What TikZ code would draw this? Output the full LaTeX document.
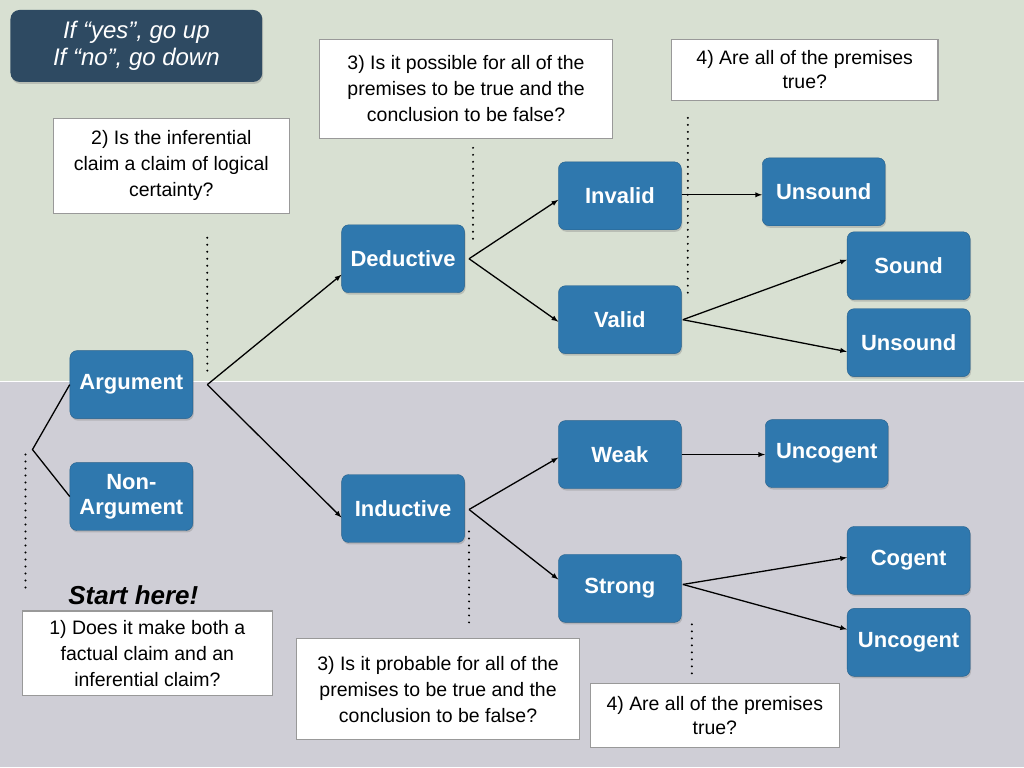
\documentclass[tikz,border=0pt]{standalone}
\usepackage{fontspec}
\setmainfont{Liberation Sans}
\usetikzlibrary{shadows}
\definecolor{bgtop}{HTML}{D8E0D2}
\definecolor{bgbot}{HTML}{CFCED6}
\definecolor{nodeblue}{HTML}{2F78AE}
\definecolor{legend}{HTML}{2E4A62}
\tikzset{
  bn/.style={rounded corners=7pt, fill=nodeblue, draw=nodeblue!80!black, minimum width=123pt, minimum height=68pt,
    text=white, font=\fontsize{22}{25}\selectfont\bfseries, align=center, inner sep=2pt,
    drop shadow={shadow xshift=1pt, shadow yshift=-2pt, opacity=0.35}},
  q/.style={draw=gray!80, fill=white, line width=1.2pt, align=center, font=\fontsize{19.5}{26}\selectfont, inner sep=3pt},
  ar/.style={-latex, line width=1.3pt},
  ln/.style={line width=1.3pt},
  dt/.style={line width=2.2pt, dash pattern=on 0pt off 7pt, line cap=round},
}
\begin{document}
\begin{tikzpicture}[x=1pt,y=-1pt]
\fill[bgtop] (0,0) rectangle (1024,382);
\fill[bgbot] (0,382) rectangle (1024,768);
\draw[white, line width=1pt] (0,382) -- (1024,382);
\useasboundingbox (0,0) rectangle (1024,768);

\node[rounded corners=9pt, fill=legend, minimum width=252pt, minimum height=72pt, text=white, font=\fontsize{24}{27}\selectfont\itshape, align=center, drop shadow={shadow xshift=1pt, shadow yshift=-2pt, opacity=0.35}] (leg) at (136,46) {If “yes”, go up\\If “no”, go down};

\node[bn] (arg) at (131,385) {Argument};
\node[bn] (non) at (131,497) {Non-\\Argument};
\node[bn] (ded) at (403,259) {Deductive};
\node[bn] (ind) at (403,509) {Inductive};
\node[bn] (inv) at (620,196) {Invalid};
\node[bn] (val) at (620,320) {Valid};
\node[bn] (uns1) at (824,192) {Unsound};
\node[bn] (snd) at (909,266) {Sound};
\node[bn] (uns2) at (909,343) {Unsound};
\node[bn] (weak) at (620,455) {Weak};
\node[bn] (unc1) at (827,454) {Uncogent};
\node[bn] (str) at (620,589) {Strong};
\node[bn] (cog) at (909,561) {Cogent};
\node[bn] (unc2) at (909,643) {Uncogent};

\node[q, minimum width=236pt, minimum height=95pt] (q2) at (171,166) {2) Is the inferential\\claim a claim of logical\\certainty?};
\node[q, minimum width=293pt, minimum height=99pt] (q3a) at (466,89) {3) Is it possible for all of the\\premises to be true and the\\conclusion to be false?};
\node[q, minimum width=267pt, minimum height=61pt, font=\fontsize{19.5}{24}\selectfont] (q4a) at (805,70) {4) Are all of the premises\\true?};
\node[q, minimum width=250pt, minimum height=85pt] (q1) at (147,654) {1) Does it make both a\\factual claim and an\\inferential claim?};
\node[q, minimum width=283pt, minimum height=101pt] (q3b) at (438,690) {3) Is it probable for all of the\\premises to be true and the\\conclusion to be false?};
\node[q, minimum width=249pt, minimum height=64pt, font=\fontsize{19.5}{24}\selectfont] (q4b) at (715,716) {4) Are all of the premises\\true?};
\node[font=\fontsize{26}{30}\selectfont\bfseries\itshape] (start) at (133,596) {Start here!};

% forks
\coordinate (f0) at (32,450);
\coordinate (f1) at (207,385);
\coordinate (f2) at (469,259);
\coordinate (f3) at (683,320);
\coordinate (f4) at (469,510);
\coordinate (f5) at (683,585);
\draw[ln] (arg.west) -- (f0) -- (non.west);
\draw[ar] (f1) -- (ded.west |- 0,275) ;
\draw[ar] (f1) -- (ind.west |- 0,518);
\draw[ar] (f2) -- (inv.west |- 0,200);
\draw[ar] (f2) -- (val.west |- 0,322);
\draw[ar] (inv.east |- 0,195) -- (uns1.west |- 0,195);
\draw[ar] (f3) -- (snd.west |- 0,260);
\draw[ar] (f3) -- (uns2.west |- 0,352);
\draw[ar] (f4) -- (weak.west |- 0,458);
\draw[ar] (f4) -- (str.west |- 0,580);
\draw[ar] (weak.east |- 0,455) -- (unc1.west |- 0,455);
\draw[ar] (f5) -- (cog.west |- 0,558);
\draw[ar] (f5) -- (unc2.west |- 0,630);

% dotted
\draw[dt] (207,238) -- (207,372);
\draw[dt] (473,148) -- (473,245);
\draw[dt] (688,118) -- (688,298);
\draw[dt] (25,455) -- (25,592);
\draw[dt] (469,532) -- (469,625);
\draw[dt] (692,625) -- (692,680);
\end{tikzpicture}
\end{document}
